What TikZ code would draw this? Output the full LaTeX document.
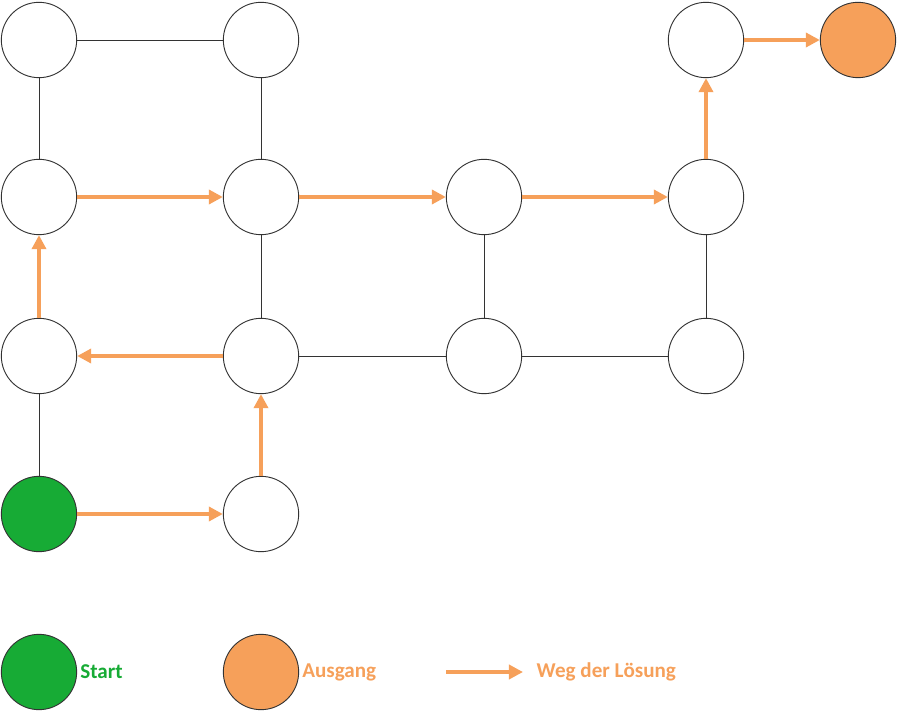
\documentclass[tikz,border=0pt]{standalone}
\usepackage{fontspec}
\setmainfont{Carlito}
\usetikzlibrary{arrows.meta,positioning}
\definecolor{startgreen}{RGB}{23,171,53}
\definecolor{pathorange}{RGB}{246,160,90}
\tikzset{cell/.style={circle, draw=black!80, line width=0.8pt, minimum size=2.26cm, inner sep=0pt, fill=white},
  wall/.style={draw=black!80, line width=0.8pt},
  way/.style={draw=pathorange, line width=3.2pt, -{Triangle[length=12pt,width=12pt]}},
  legend/.style={font=\bfseries\fontsize{18}{21}\selectfont, anchor=west, inner sep=2.5pt}}

\begin{document}
\begin{tikzpicture}[x=0.03cm, y=-0.03cm]
    \useasboundingbox (0,0) rectangle (897,712);
    \node[cell] (A) at (39,40) {};
    \node[cell] (B) at (261,40) {};
    \node[cell] (G) at (706,40) {};
    \node[cell,fill=pathorange] (X) at (858,40) {};
    \node[cell] (C) at (39,197) {};
    \node[cell] (D) at (261,197) {};
    \node[cell] (E) at (484,197) {};
    \node[cell] (F) at (706,197) {};
    \node[cell] (H) at (39,356) {};
    \node[cell] (I) at (261,356) {};
    \node[cell] (J) at (484,356) {};
    \node[cell] (K) at (706,356) {};
    \node[cell,fill=startgreen] (S) at (39,514) {};
    \node[cell] (L) at (261,514) {};
    \draw[wall] (A) -- (B);
    \draw[wall] (A) -- (C);
    \draw[wall] (B) -- (D);
    \draw[wall] (D) -- (I);
    \draw[wall] (E) -- (J);
    \draw[wall] (F) -- (K);
    \draw[wall] (I) -- (J);
    \draw[wall] (J) -- (K);
    \draw[wall] (H) -- (S);
    \draw[way] (S) -- (L);
    \draw[way] (L) -- (I);
    \draw[way] (I) -- (H);
    \draw[way] (H) -- (C);
    \draw[way] (C) -- (D);
    \draw[way] (D) -- (E);
    \draw[way] (E) -- (F);
    \draw[way] (F) -- (G);
    \draw[way] (G) -- (X);
    % legend
    \node[cell,fill=startgreen] (LS) at (39,672) {};
    \node[legend,text=startgreen] (LSt) at (LS.east) {Start};
    \node[cell,fill=pathorange] (LA) at (261,672) {};
    \node[legend,text=pathorange] (LAt) at (LA.east) {Ausgang};
    \coordinate (W1) at (446,672);
    \coordinate (W2) at (523,672);
    \draw[way] (W1) -- (W2);
    \node[legend,text=pathorange,xshift=9pt] (LW) at (W2) {Weg der Lösung};
\end{tikzpicture}
\end{document}
